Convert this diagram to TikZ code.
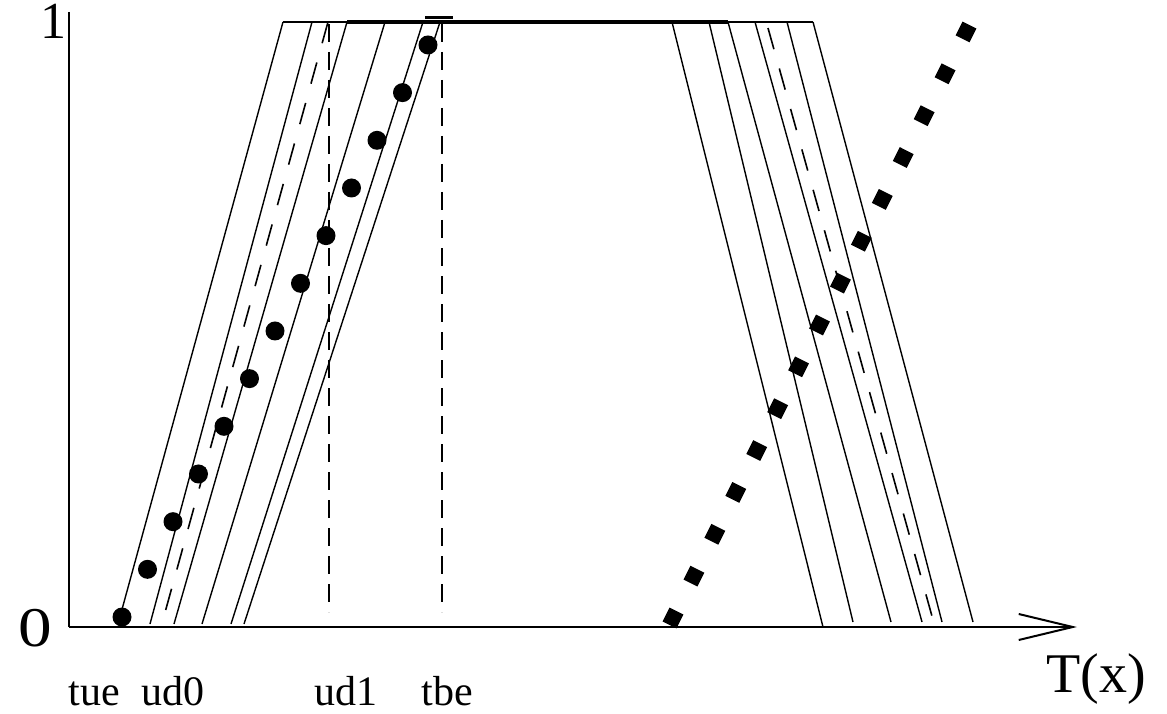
\documentclass[tikz,border=0pt]{standalone}
\usepackage{fontspec}
\setmainfont{Liberation Serif}
\usetikzlibrary{arrows.meta}

\begin{document}
\begin{tikzpicture}[x=1pt,y=-1pt,
		thinline/.style={line width=1.4pt},
		slantdash/.style={line width=1.6pt, dash pattern=on 22pt off 20pt},
		vertdash/.style={line width=1.4pt, dash pattern=on 18pt off 10pt},
		axisline/.style={line width=1.8pt},
		lab/.style={anchor=base, inner sep=0pt, font=\fontsize{42}{42}\selectfont},
		biglab/.style={anchor=base, inner sep=0pt, font=\fontsize{56}{56}\selectfont},
		bullet/.style={circle, fill=black, inner sep=0pt, minimum size=19pt},
		blk/.style={rectangle, fill=black, inner sep=0pt, minimum size=15.5pt, rotate=63.4}]
			\useasboundingbox (0,0) rectangle (1167,714);
			\coordinate (o) at (69,627);
			\coordinate (ytop) at (69,12);
			\coordinate (xend) at (1077,627);
			\draw[axisline] (ytop) -- (o);
			\draw[axisline, -{Straight Barb[length=54pt,width=26pt,line width=2pt]}] (o) -- (xend);
			\draw[thinline] (118,624) -- (283,22);
			\draw[thinline] (150,624) -- (312,22);
			\draw[slantdash] (328,22) -- (161,627);
			\draw[thinline] (174,624) -- (347,22);
			\draw[thinline] (202,624) -- (385,22);
			\draw[thinline] (231,624) -- (423,22);
			\draw[thinline] (244,624) -- (440,22);
			\draw[thinline] (672,22) -- (823,627);
			\draw[thinline] (709,22) -- (853,622);
			\draw[thinline] (728,22) -- (891,622);
			\draw[thinline] (755,22) -- (922,622);
			\draw[slantdash] (768,28) -- (935,627);
			\draw[thinline] (787,22) -- (942,622);
			\draw[thinline] (813,22) -- (973,622);
			\draw[thinline] (283,22) -- (813,22);
			\draw[line width=3.5pt] (347,22) -- (728,22);
			\draw[line width=3pt] (425,18) -- (453,18);
			\draw[vertdash] (329,24) -- (329,612);
			\draw[vertdash] (442,24) -- (442,612);
			\foreach \i in {0,...,12}
				\node[bullet] (c\i) at ({122+25.5*\i},{617-47.67*\i}) {};
			\foreach \i in {0,...,14}
				\node[blk] (s\i) at ({673+20.93*\i},{618-41.86*\i}) {};
			\node[lab] (tue) at (94,705) {tue};
			\node[lab] (ud0) at (173,705) {ud0};
			\node[lab] (ud1) at (346,705) {ud1};
			\node[lab] (tbe) at (447,705) {tbe};
			\node[biglab] (tx) at (1096,692) {T(x)};
			\node[biglab] (zero) at (35,646) {\scalebox{1.2}[1]{0}};
			\node[biglab, font=\fontsize{52}{52}\selectfont] (one) at (53,39) {1};
		\end{tikzpicture}
\end{document}
